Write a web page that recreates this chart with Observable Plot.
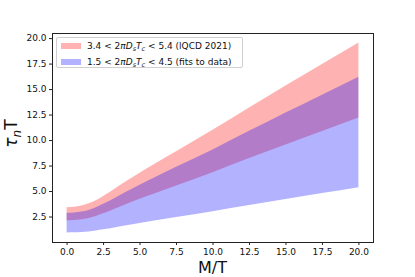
<!DOCTYPE html>
<html>
<head>
<meta charset="utf-8">
<script src="https://cdn.jsdelivr.net/npm/d3@7"></script>
<script src="https://cdn.jsdelivr.net/npm/@observablehq/plot@0.6"></script>
<style>
  body { margin: 0; background: #fff; font-family: "DejaVu Sans", sans-serif; }
  #wrap { position: relative; width: 415px; height: 277px; }
  #legend { position: absolute; left: 56px; top: 37px; width: 185px; height: 29px;
    border: 1px solid #d0d0d0; border-radius: 2px; background: rgba(255,255,255,0.8);
    font-size: 9px; color: #111; }
  .item { position: absolute; left: 4px; height: 10px; line-height: 10px; white-space: nowrap; }
  .patch { display: inline-block; width: 20px; height: 6px; vertical-align: middle; margin-right: 6px; margin-top: -2px; }
  .item i { font-style: oblique; }
  .item sub { font-size: 6.5px; vertical-align: -2px; line-height: 0; }
</style>
</head>
<body>
<div id="wrap"></div>
<script>
// M/T sample points
const xs = [0, 0.5, 1, 1.5, 2, 2.5, 3, 4, 5, 6, 7.5, 10, 12.5, 15, 17.5, 20];
// 3.4 < 2πDsTc < 5.4 (lQCD 2021): lower and upper edge of tau_n T
const redLo = [2.13, 2.16, 2.23, 2.36, 2.56, 2.81, 3.08, 3.67, 4.24, 4.76, 5.55, 6.85, 8.23, 9.57, 10.88, 12.2];
const redHi = [3.42, 3.46, 3.58, 3.80, 4.10, 4.50, 4.95, 5.90, 6.80, 7.65, 8.90, 11.0, 13.2, 15.35, 17.45, 19.57];
// 1.5 < 2πDsTc < 4.5 (fits to data)
const blueLo = [0.93, 0.95, 0.98, 1.04, 1.13, 1.24, 1.36, 1.62, 1.87, 2.10, 2.45, 3.02, 3.63, 4.22, 4.80, 5.38];
const blueHi = [2.87, 2.90, 2.98, 3.15, 3.42, 3.74, 4.10, 4.88, 5.62, 6.33, 7.37, 9.08, 10.9, 12.7, 14.45, 16.2];
const xTicks = [0, 2.5, 5, 7.5, 10, 12.5, 15, 17.5, 20];
const yTicks = [2.5, 5, 7.5, 10, 12.5, 15, 17.5, 20];

const red = xs.map((x, i) => ({x, lo: redLo[i], hi: redHi[i]}));
const blue = xs.map((x, i) => ({x, lo: blueLo[i], hi: blueHi[i]}));

const W = 415, H = 277, mL = 52, mR = 42, mT = 33, mB = 35;
const fmt = d3.format(".1f");

const plot = Plot.plot({
  width: W, height: H,
  marginLeft: mL, marginRight: mR, marginTop: mT, marginBottom: mB,
  style: { fontFamily: "DejaVu Sans, sans-serif", fontSize: "9px", color: "#111", background: "#fff" },
  x: { domain: [-1, 21] },
  y: { domain: [0, 20.5] },
  marks: [
    Plot.areaY(red, { x: "x", y1: "lo", y2: "hi", fill: "red", fillOpacity: 0.3, curve: "monotone-x" }),
    Plot.areaY(blue, { x: "x", y1: "lo", y2: "hi", fill: "blue", fillOpacity: 0.3, curve: "monotone-x" }),
    Plot.axisX({ ticks: xTicks, tickFormat: fmt, tickSize: 3, tickPadding: 3, label: null, stroke: "#222" }),
    Plot.axisY({ ticks: yTicks, tickFormat: fmt, tickSize: 3, tickPadding: 3, label: null, stroke: "#222" }),
    Plot.frame({ stroke: "#222", strokeWidth: 1 })
  ]
});

const wrap = document.getElementById("wrap");
wrap.appendChild(plot);

// axis labels
const svg = d3.select(plot);
const cx = (mL + W - mR) / 2;
const cy = (mT + H - mB) / 2;
svg.append("text")
  .attr("x", cx).attr("y", 273)
  .attr("text-anchor", "middle")
  .attr("font-size", 16).attr("fill", "#111")
  .attr("font-family", "DejaVu Sans, sans-serif")
  .text("M/T");
const yl = svg.append("text")
  .attr("transform", `translate(17,${cy - 4}) rotate(-90)`)
  .attr("text-anchor", "middle")
  .attr("font-size", 17).attr("fill", "#111")
  .attr("font-family", "DejaVu Sans, sans-serif");
yl.append("tspan").attr("font-style", "italic").text("τ");
yl.append("tspan").attr("font-style", "italic").attr("font-size", 12).attr("dy", 4).text("n");
yl.append("tspan").attr("dy", -4).text("T");

// legend
const legend = document.createElement("div");
legend.id = "legend";
legend.innerHTML = `
  <div class="item" style="top:3px"><span class="patch" style="background:rgba(255,0,0,0.3)"></span>3.4 &lt; 2<i>πD</i><sub><i>s</i></sub><i>T</i><sub><i>c</i></sub> &lt; 5.4 (lQCD 2021)</div>
  <div class="item" style="top:19px"><span class="patch" style="background:rgba(0,0,255,0.3)"></span>1.5 &lt; 2<i>πD</i><sub><i>s</i></sub><i>T</i><sub><i>c</i></sub> &lt; 4.5 (fits to data)</div>`;
wrap.appendChild(legend);
</script>
</body>
</html>
